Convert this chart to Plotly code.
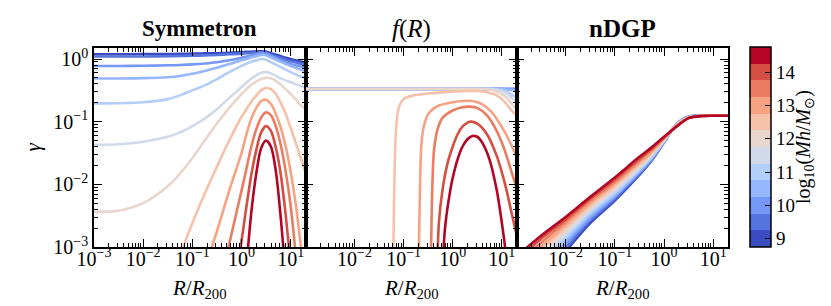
import plotly.graph_objects as go

# ---------------- data ----------------
MASSES = [9, 9.5, 10, 10.5, 11, 11.5, 12, 12.5, 13, 13.5, 14, 14.5]
COLORS = ["rgb(59,76,192)", "rgb(86,116,224)", "rgb(117,152,246)", "rgb(149,183,255)",
          "rgb(180,206,251)", "rgb(209,218,234)", "rgb(232,214,204)", "rgb(246,193,168)",
          "rgb(246,163,132)", "rgb(235,124,97)", "rgb(212,78,65)", "rgb(180,4,38)"]

X_TICK_VALS = [1e-3, 1e-2, 1e-1, 1, 10]
X_TICK_TEXT = ["10<sup>−3</sup>", "10<sup>−2</sup>", "10<sup>−1</sup>", "10<sup>0</sup>", "10<sup>1</sup>"]
Y_TICK_VALS = [1e-3, 1e-2, 1e-1, 1]
Y_TICK_TEXT = ["10<sup>−3</sup>", "10<sup>−2</sup>", "10<sup>−1</sup>", "10<sup>0</sup>"]
CBAR_TICKS = [9, 10, 11, 12, 13, 14]
DECADES = [1e-3, 1e-2, 1e-1, 1, 10]
MINOR_MULT = [2, 3, 4, 5, 6, 7, 8, 9]

# Symmetron (shared radius grid)
R_SYM = [0.001, 0.00316, 0.01, 0.0316, 0.0562, 0.1, 0.178, 0.316, 0.562, 1.0, 1.26, 1.58,
         2.0, 2.51, 3.16, 3.98, 5.01, 6.31, 7.94, 10.0, 12.6, 15.8, 20.0]
SYM_9 = [1.19, 1.19, 1.20, 1.20, 1.21, 1.22, 1.23, 1.24, 1.26, 1.29, 1.30, 1.31, 1.32, 1.33, 1.32, 1.24, 1.17, 1.11, 1.05, 1.00, 0.955, 0.912, 0.871]
SYM_9_5 = [1.10, 1.10, 1.10, 1.11, 1.12, 1.13, 1.14, 1.16, 1.19, 1.22, 1.24, 1.25, 1.27, 1.28, 1.26, 1.17, 1.10, 1.04, 0.977, 0.923, 0.881, 0.841, 0.813]
SYM_10 = [0.776, 0.776, 0.780, 0.794, 0.804, 0.822, 0.851, 0.891, 0.955, 1.05, 1.10, 1.15, 1.19, 1.23, 1.22, 1.12, 1.04, 0.955, 0.891, 0.841, 0.794, 0.759, 0.741]
SYM_10_5 = [0.490, 0.490, 0.495, 0.513, 0.537, 0.582, 0.646, 0.724, 0.832, 0.955, 1.0, 1.06, 1.11, 1.16, 1.15, 1.06, 0.977, 0.902, 0.832, 0.776, 0.724, 0.676, 0.646]
SYM_11 = [0.196, 0.197, 0.204, 0.229, 0.263, 0.316, 0.380, 0.479, 0.617, 0.776, 0.841, 0.902, 0.955, 1.0, 0.977, 0.891, 0.813, 0.741, 0.676, 0.617, 0.569, 0.525, 0.501]
SYM_11_5 = [0.0427, 0.0437, 0.0479, 0.0575, 0.0676, 0.0851, 0.112, 0.158, 0.240, 0.355, 0.417, 0.490, 0.550, 0.603, 0.617, 0.589, 0.537, 0.490, 0.457, 0.427, 0.398, 0.372, 0.355]
SYM_12 = [0.00363, 0.00380, 0.00501, 0.00933, 0.0148, 0.0263, 0.0501, 0.0933, 0.166, 0.275, 0.331, 0.389, 0.437, 0.479, 0.501, 0.490, 0.447, 0.389, 0.331, 0.275, 0.229, 0.186, 0.158]
SYM_12_5 = [None, None, None, 2.51e-4, 7.59e-4, 2.40e-3, 7.08e-3, 0.0191, 0.0501, 0.120, 0.158, 0.209, 0.263, 0.316, 0.347, 0.331, 0.275, 0.200, 0.132, 0.0794, 0.0468, 0.0269, 0.0158]
SYM_13 = [None, None, None, None, None, 1.0e-4, 4.47e-4, 1.78e-3, 7.94e-3, 0.0316, 0.0631, 0.112, 0.166, 0.214, 0.224, 0.191, 0.132, 0.0794, 0.0398, 0.0158, 5.01e-3, 1.17e-3, 2.51e-4]
SYM_13_5 = [None, None, None, None, None, None, None, 1.58e-4, 1.12e-3, 7.94e-3, 0.0178, 0.0398, 0.0759, 0.117, 0.141, 0.126, 0.0832, 0.0417, 0.0158, 4.47e-3, 7.94e-4, 1.26e-4, None]
SYM_14 = [None, None, None, None, None, None, None, None, 1.0e-4, 1.26e-3, 4.47e-3, 0.0141, 0.0355, 0.0676, 0.0851, 0.0708, 0.0380, 0.0141, 3.16e-3, 5.01e-4, 6.31e-5, None, None]
SYM_14_5 = [None, None, None, None, None, None, None, None, None, 6.31e-5, 5.01e-4, 3.55e-3, 0.0151, 0.0380, 0.0501, 0.0398, 0.0158, 2.82e-3, 3.16e-4, None, None, None, None]

# f(R): flat (unscreened) curves share a grid; screened ones have their own radii
R_FR_FLAT = [0.001, 0.01, 0.1, 1.0, 3.16, 3.98, 5.01, 6.31, 7.94, 10.0, 12.6, 15.8, 20.0]
FR_9 = [0.333, 0.333, 0.333, 0.333, 0.333, 0.333, 0.333, 0.333, 0.333, 0.333, 0.333, 0.333, 0.333]
FR_9_5 = [0.333, 0.333, 0.333, 0.333, 0.333, 0.333, 0.333, 0.333, 0.333, 0.333, 0.333, 0.332, 0.331]
FR_10 = [0.333, 0.333, 0.333, 0.333, 0.333, 0.333, 0.333, 0.333, 0.333, 0.332, 0.330, 0.328, 0.325]
FR_10_5 = [0.333, 0.333, 0.333, 0.333, 0.333, 0.333, 0.333, 0.333, 0.333, 0.331, 0.327, 0.320, 0.310]
FR_11 = [0.333, 0.333, 0.333, 0.333, 0.333, 0.333, 0.333, 0.333, 0.330, 0.320, 0.300, 0.270, 0.245]
FR_11_5 = [0.333, 0.333, 0.333, 0.333, 0.333, 0.333, 0.332, 0.330, 0.322, 0.305, 0.280, 0.240, 0.205]
FR_12 = [0.333, 0.333, 0.333, 0.333, 0.333, 0.332, 0.329, 0.320, 0.300, 0.275, 0.240, 0.195, 0.155]
R_FR_12_5 = [0.0617, 0.0646, 0.0692, 0.0794, 0.1, 0.158, 0.316, 1.0, 2.0, 3.16, 5.01, 7.94, 10.0, 12.6, 15.8, 20.0]
FR_12_5 = [7.94e-4, 0.01, 0.0631, 0.166, 0.229, 0.263, 0.282, 0.302, 0.309, 0.309, 0.295, 0.263, 0.229, 0.191, 0.151, 0.126]
R_FR_13 = [0.204, 0.214, 0.229, 0.251, 0.316, 0.501, 1.0, 1.58, 2.51, 3.98, 6.31, 10.0, 12.6, 15.8, 20.0]
FR_13 = [7.94e-4, 6.31e-3, 0.0398, 0.0759, 0.132, 0.178, 0.204, 0.214, 0.214, 0.191, 0.141, 0.0832, 0.0603, 0.0417, 0.0282]
R_FR_13_5 = [0.363, 0.380, 0.417, 0.501, 0.631, 1.0, 1.58, 2.24, 3.16, 5.01, 7.94, 10.0, 12.6, 15.8, 20.0]
FR_13_5 = [7.94e-4, 6.31e-3, 0.0355, 0.0794, 0.117, 0.151, 0.170, 0.174, 0.166, 0.126, 0.0708, 0.0468, 0.0282, 0.0158, 8.91e-3]
R_FR_14 = [0.490, 0.525, 0.631, 0.794, 1.0, 1.26, 1.58, 2.24, 3.16, 5.01, 7.94, 10.0, 12.6, 15.8, 20.0]
FR_14 = [6.31e-4, 2.51e-3, 8.91e-3, 0.0224, 0.0398, 0.0631, 0.0832, 0.1, 0.0933, 0.0631, 0.0282, 0.0158, 7.94e-3, 3.55e-3, 1.58e-3]
R_FR_14_5 = [0.631, 0.708, 0.891, 1.0, 1.26, 1.58, 2.0, 2.51, 3.16, 3.98, 5.62, 7.94, 10.0, 11.7, 14.1]
FR_14_5 = [6.31e-4, 2.24e-3, 7.94e-3, 0.0126, 0.0251, 0.0398, 0.0525, 0.0589, 0.0575, 0.0468, 0.0251, 7.94e-3, 2.51e-3, 1.0e-3, 2.51e-4]

# nDGP (shared grid)
R_NDGP = [0.001, 0.00316, 0.01, 0.0316, 0.1, 0.316, 0.562, 1.0, 1.78, 3.16, 5.62, 10.0, 20.0]
NDGP_9 = [7.94e-5, 2.82e-4, 8.51e-4, 2.40e-3, 5.50e-3, 0.0141, 0.0240, 0.0468, 0.0912, 0.120, 0.1245, 0.126, 0.126]
NDGP_9_5 = [1.0e-4, 3.39e-4, 9.77e-4, 2.63e-3, 5.89e-3, 0.0148, 0.0245, 0.0468, 0.0912, 0.120, 0.1245, 0.126, 0.126]
NDGP_10 = [1.26e-4, 3.98e-4, 1.12e-3, 2.88e-3, 6.31e-3, 0.0155, 0.0251, 0.0479, 0.0912, 0.119, 0.1245, 0.126, 0.126]
NDGP_10_5 = [1.58e-4, 4.68e-4, 1.26e-3, 3.16e-3, 6.76e-3, 0.0162, 0.0263, 0.0479, 0.0912, 0.119, 0.124, 0.126, 0.126]
NDGP_11 = [2.0e-4, 5.50e-4, 1.41e-3, 3.47e-3, 7.24e-3, 0.0174, 0.0275, 0.0490, 0.0891, 0.118, 0.124, 0.126, 0.126]
NDGP_11_5 = [2.51e-4, 6.46e-4, 1.58e-3, 3.80e-3, 7.94e-3, 0.0182, 0.0288, 0.0501, 0.0891, 0.117, 0.124, 0.126, 0.126]
NDGP_12 = [3.02e-4, 7.59e-4, 1.78e-3, 4.17e-3, 8.51e-3, 0.0195, 0.0302, 0.0513, 0.0871, 0.117, 0.124, 0.126, 0.126]
NDGP_12_5 = [3.63e-4, 8.91e-4, 2.0e-3, 4.57e-3, 9.33e-3, 0.0209, 0.0316, 0.0525, 0.0871, 0.116, 0.1236, 0.1245, 0.1245]
NDGP_13 = [4.37e-4, 1.02e-3, 2.24e-3, 5.01e-3, 0.0102, 0.0224, 0.0331, 0.0537, 0.0851, 0.115, 0.1236, 0.1245, 0.1245]
NDGP_13_5 = [5.13e-4, 1.17e-3, 2.51e-3, 5.50e-3, 0.0110, 0.0240, 0.0355, 0.0550, 0.0851, 0.115, 0.1233, 0.1245, 0.1245]
NDGP_14 = [6.03e-4, 1.35e-3, 2.75e-3, 5.89e-3, 0.0120, 0.0257, 0.0372, 0.0562, 0.0832, 0.114, 0.123, 0.1245, 0.1245]
NDGP_14_5 = [7.08e-4, 1.51e-3, 3.02e-3, 6.31e-3, 0.0129, 0.0275, 0.0389, 0.0575, 0.0832, 0.114, 0.123, 0.1245, 0.1245]

SYM_CURVES = [SYM_9, SYM_9_5, SYM_10, SYM_10_5, SYM_11, SYM_11_5, SYM_12, SYM_12_5, SYM_13, SYM_13_5, SYM_14, SYM_14_5]
FR_CURVES = [(R_FR_FLAT, FR_9), (R_FR_FLAT, FR_9_5), (R_FR_FLAT, FR_10), (R_FR_FLAT, FR_10_5),
             (R_FR_FLAT, FR_11), (R_FR_FLAT, FR_11_5), (R_FR_FLAT, FR_12), (R_FR_12_5, FR_12_5),
             (R_FR_13, FR_13), (R_FR_13_5, FR_13_5), (R_FR_14, FR_14), (R_FR_14_5, FR_14_5)]
NDGP_CURVES = [NDGP_9, NDGP_9_5, NDGP_10, NDGP_10_5, NDGP_11, NDGP_11_5, NDGP_12, NDGP_12_5, NDGP_13, NDGP_13_5, NDGP_14, NDGP_14_5]

# ---------------- figure ----------------
W, H = 831, 306
FONT = "Liberation Serif"
LW = 2.6

MINOR_VALS = [d * m for d in DECADES for m in MINOR_MULT]

fig = go.Figure()
line_kw = dict(shape="spline", smoothing=0.8)

for i, ys in enumerate(SYM_CURVES):
    fig.add_trace(go.Scatter(x=R_SYM, y=ys, mode="lines", xaxis="x", yaxis="y",
                             line=dict(color=COLORS[i], width=LW, **line_kw),
                             showlegend=False, hoverinfo="skip"))
for i, (rs, ys) in enumerate(FR_CURVES):
    fig.add_trace(go.Scatter(x=rs, y=ys, mode="lines", xaxis="x2", yaxis="y2",
                             line=dict(color=COLORS[i], width=LW, **line_kw),
                             showlegend=False, hoverinfo="skip"))
for i, ys in enumerate(NDGP_CURVES):
    fig.add_trace(go.Scatter(x=R_NDGP, y=ys, mode="lines", xaxis="x3", yaxis="y3",
                             line=dict(color=COLORS[i], width=LW, **line_kw),
                             showlegend=False, hoverinfo="skip"))

# discrete colorbar
n = len(COLORS)
cscale = []
for i, c in enumerate(COLORS):
    cscale.append([i / n, c])
    cscale.append([(i + 1) / n, c])

fig.add_trace(go.Scatter(
    x=[None], y=[None], mode="markers", xaxis="x3", yaxis="y3", showlegend=False, hoverinfo="skip",
    marker=dict(color=MASSES, colorscale=cscale, cmin=8.75, cmax=14.75, showscale=True, size=0.1,
                colorbar=dict(
                    thickness=21, thicknessmode="pixels",
                    len=200 / H, lenmode="fraction",
                    x=742 / W, xanchor="left", y=(H - 239) / H, yanchor="bottom",
                    xpad=0, ypad=0,
                    outlinewidth=1.5, outlinecolor="black",
                    tickvals=CBAR_TICKS, ticktext=[str(t) for t in CBAR_TICKS],
                    ticks="inside", ticklen=6, tickwidth=1, tickcolor="black",
                    tickfont=dict(family=FONT, size=19, color="black"),
                ))))

ylo, yhi = (H - 239) / H, (H - 40) / H
xd = [(86 / W, 297.5 / W), (297.5 / W, 508.5 / W), (508.5 / W, 720 / W)]

MINOR = dict(ticks="inside", ticklen=4, tickwidth=1, tickcolor="black", showgrid=False,
             tickmode="array", tickvals=MINOR_VALS)

def xaxis(dom, show_first):
    return dict(domain=list(dom), type="log", range=[-3, 1.301], showline=True, linecolor="black",
                linewidth=1.5, mirror="allticks", ticks="inside", ticklen=8, tickwidth=1, tickcolor="black",
                minor=MINOR, showgrid=False, zeroline=False, automargin=False,
                tickmode="array",
                tickvals=X_TICK_VALS if show_first else X_TICK_VALS[1:],
                ticktext=X_TICK_TEXT if show_first else X_TICK_TEXT[1:],
                ticklabelstandoff=-7,
                tickfont=dict(family=FONT, size=20, color="black"))

def yaxis(anchor, show_labels):
    return dict(domain=[ylo, yhi], anchor=anchor, type="log", range=[-3, 0.1761], showline=True,
                linecolor="black", linewidth=1.5, mirror="allticks", ticks="inside", ticklen=8,
                tickwidth=1, tickcolor="black", automargin=False, minor=MINOR,
                showgrid=False, zeroline=False, tickmode="array", tickvals=Y_TICK_VALS, ticktext=Y_TICK_TEXT,
                showticklabels=show_labels, tickfont=dict(family=FONT, size=20, color="black"))

fig.update_layout(
    width=W, height=H, paper_bgcolor="white", plot_bgcolor="white",
    margin=dict(l=0, r=0, t=0, b=0, pad=0, autoexpand=False), showlegend=False,
    xaxis=dict(**xaxis(xd[0], True), anchor="y"),
    xaxis2=dict(**xaxis(xd[1], False), anchor="y2"),
    xaxis3=dict(**xaxis(xd[2], False), anchor="y3"),
    yaxis=yaxis("x", True),
    yaxis2=yaxis("x2", False),
    yaxis3=yaxis("x3", False),
)

titles = ["<b>Symmetron</b>", "<i>f</i>(<i>R</i>)", "<b>nDGP</b>"]
tsizes = [23, 25, 25]
for (a, b), t, s in zip(xd, titles, tsizes):
    fig.add_annotation(text=t, x=(a + b) / 2, y=(H - 21) / H, xref="paper", yref="paper",
                       xanchor="center", yanchor="middle", showarrow=False,
                       font=dict(family=FONT, size=s, color="black"))
    fig.add_annotation(text="<i>R</i>/<i>R</i><sub>200</sub>", x=(a + b) / 2, y=(H - 281) / H,
                       xref="paper", yref="paper", xanchor="center", yanchor="middle", showarrow=False,
                       font=dict(family=FONT, size=21, color="black"))

fig.add_annotation(text="<i>γ</i>", x=24 / W, y=(H - 139.5) / H, xref="paper", yref="paper",
                   xanchor="center", yanchor="middle", textangle=-90, showarrow=False,
                   font=dict(family=FONT, size=21, color="black"))

# colorbar label
fig.add_annotation(text="log<sub>10</sub>(<i>Mh</i>/<i>M</i><sub>⊙</sub>)", x=796 / W, y=(H - 139) / H,
                   xref="paper", yref="paper", xanchor="center", yanchor="middle", textangle=-90,
                   showarrow=False, font=dict(family=FONT, size=20, color="black"))

fig.write_html("out.html")
